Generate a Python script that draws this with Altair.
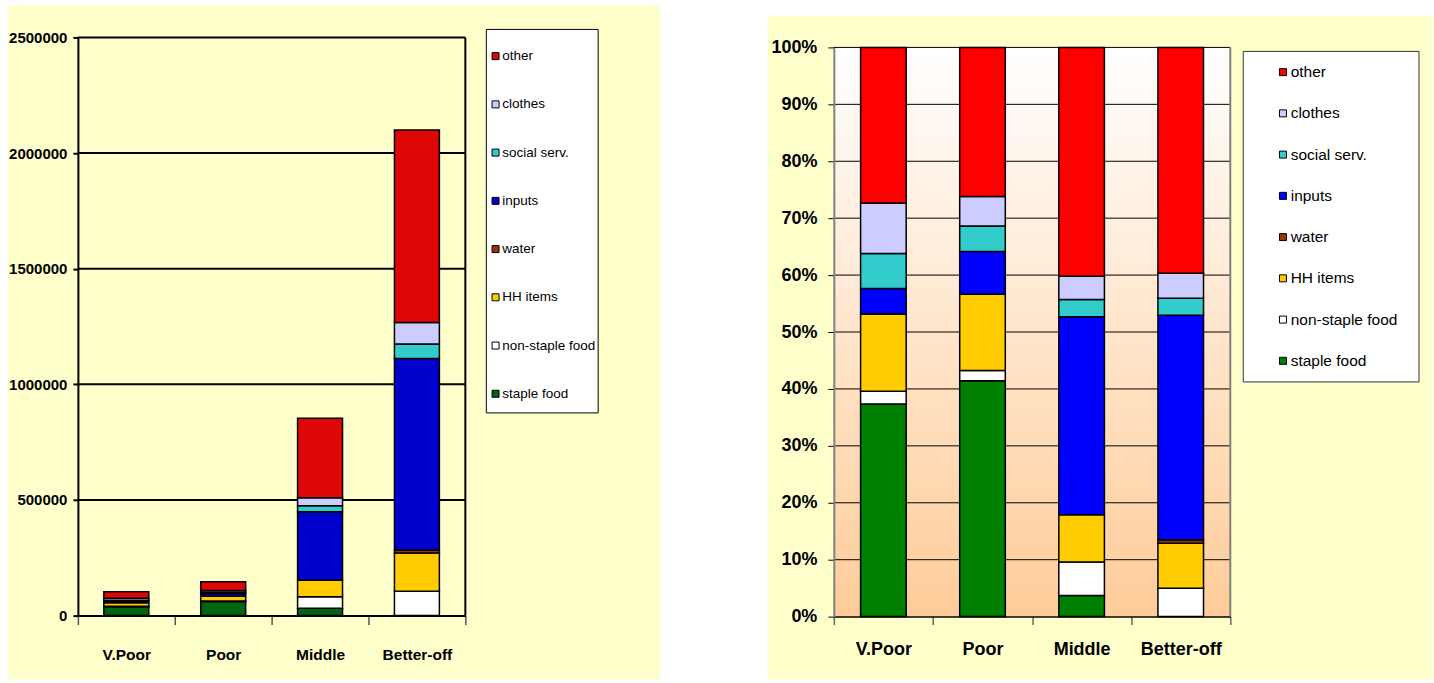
import altair as alt
import pandas as pd

# Wealth groups along the x axis
groups = ["V.Poor", "Poor", "Middle", "Better-off"]

# Annual expenditure by item, one value per wealth group
staple_food = [38700, 60900, 31600, 0]
non_staple_food = [2300, 2600, 50300, 105000]
hh_items = [14100, 19700, 70800, 166000]
water = [0, 0, 0, 12600]
inputs = [4600, 11000, 296800, 828000]
social_serv = [6400, 6600, 25600, 63000]
clothes = [9200, 7600, 35000, 92400]
other = [28300, 38500, 343000, 833000]

# Items in stacking order (bottom to top)
items = ["staple food", "non-staple food", "HH items", "water",
         "inputs", "social serv.", "clothes", "other"]
series = [staple_food, non_staple_food, hh_items, water,
          inputs, social_serv, clothes, other]

colors_abs = ["#006411", "#FFFFFF", "#FFCC00", "#993300",
              "#0000CC", "#33CCCC", "#CCCCFF", "#DD0806"]
colors_pct = ["#008000", "#FFFFFF", "#FFCC00", "#993300",
              "#0000FF", "#33CCCC", "#CCCCFF", "#FF0000"]

abs_ticks = [0, 500000, 1000000, 1500000, 2000000, 2500000]
pct_ticks = [0, 0.1, 0.2, 0.3, 0.4, 0.5, 0.6, 0.7, 0.8, 0.9, 1.0]

rows = [
    {"group": g, "item": it, "order": i, "value": v}
    for i, (it, vals) in enumerate(zip(items, series))
    for g, v in zip(groups, vals)
]
df = pd.DataFrame(rows)

legend_items = items[::-1]
FONT = "Liberation Sans, Arial, sans-serif"
PANEL = "#FFFFCC"
one = alt.Data(values=[{"k": 1}])

# ---------------- absolute values ----------------
W1, H1 = 388, 579
yscale_l = alt.Scale(domain=[0, 2500000], nice=False)
yaxis_l = alt.Axis(title=None, values=abs_ticks, format="d", grid=False, zindex=1,
                   labelFont=FONT, labelFontSize=15, labelFontWeight="bold",
                   labelColor="black", labelPadding=6, tickSize=5, tickColor="black",
                   tickWidth=2, domainColor="black", domainWidth=2,
                   minExtent=70, maxExtent=70)
xaxis_l = alt.Axis(title=None, labelAngle=0, grid=False, zindex=1, labelFont=FONT,
                   labelFontSize=15.5, labelFontWeight="bold", labelColor="black",
                   labelBaseline="middle", labelPadding=30, tickBand="extent",
                   tickSize=9, tickColor="#555555", tickWidth=1.5,
                   domainColor="black", domainWidth=2)

panel_l = alt.Chart(one).mark_rect(color=PANEL).encode(
    x=alt.value(-70), x2=alt.value(583), y=alt.value(-32), y2=alt.value(643))
grid_l = alt.Chart(pd.DataFrame({"v": abs_ticks[1:]})).mark_rule(
    color="black", strokeWidth=2).encode(
    y=alt.Y("v:Q", scale=yscale_l, axis=yaxis_l), x=alt.value(0), x2=alt.value(W1))
bars_l = alt.Chart(df).transform_filter("datum.value > 0").mark_bar(
    stroke="black", strokeWidth=1.5, width=alt.RelativeBandSize(0.464)).encode(
    x=alt.X("group:N", sort=groups, scale=alt.Scale(paddingInner=0, paddingOuter=0),
            axis=xaxis_l),
    y=alt.Y("value:Q", stack="zero", scale=yscale_l, axis=yaxis_l),
    color=alt.Color("item:N",
                    scale=alt.Scale(domain=legend_items, range=colors_abs[::-1]),
                    legend=alt.Legend(orient="none", legendX=411.5, legendY=12,
                                      title=None, padding=0, symbolType="square",
                                      symbolSize=49, symbolStrokeColor="black",
                                      symbolStrokeWidth=1, labelFont=FONT,
                                      labelFontSize=13.5, labelColor="black",
                                      labelOffset=0, rowPadding=33.3)),
    order=alt.Order("order:Q", sort="ascending"),
)
border_l = alt.Chart(one).mark_rule(color="black", strokeWidth=2).encode(
    x=alt.value(W1), y=alt.value(0), y2=alt.value(H1))
lbox_l = alt.Chart(one).mark_rect(fill="white", stroke="black", strokeWidth=1).encode(
    x=alt.value(409), x2=alt.value(521), y=alt.value(-8), y2=alt.value(376))

left = alt.layer(panel_l, grid_l, bars_l, border_l, lbox_l).properties(width=W1, height=H1)

# ---------------- shares ----------------
W2, H2, T2 = 397, 580, 10
yscale_r = alt.Scale(domain=[0, 1], nice=False, range=[H2, T2])
yaxis_r = alt.Axis(title=None, values=pct_ticks, format=".0%", grid=False, zindex=1,
                   labelFont=FONT, labelFontSize=18, labelFontWeight="bold",
                   labelColor="black", labelPadding=11, tickSize=6, tickColor="black",
                   tickWidth=1, domainColor="#808080", domainWidth=2)
xaxis_r = alt.Axis(title=None, labelAngle=0, grid=False, zindex=1, labelFont=FONT,
                   labelFontSize=18, labelFontWeight="bold", labelColor="black",
                   labelBaseline="middle", labelPadding=25, tickBand="extent",
                   tickSize=8, tickColor="#666666", tickWidth=1.5,
                   domainColor="black", domainWidth=1.5)

gradient = alt.LinearGradient(
    gradient="linear", x1=0, x2=0, y1=0, y2=1,
    stops=[alt.GradientStop(color="#FFFFFF", offset=0),
           alt.GradientStop(color="#FFCC99", offset=1)])

panel_r = alt.Chart(one).mark_rect(color=PANEL).encode(
    x=alt.value(-66), x2=alt.value(600), y=alt.value(-22), y2=alt.value(643))
plotbg_r = alt.Chart(one).mark_rect(color=gradient).encode(
    x=alt.value(0), x2=alt.value(W2), y=alt.value(T2), y2=alt.value(H2))
grid_r = alt.Chart(pd.DataFrame({"v": pct_ticks[1:]})).mark_rule(
    color="black", strokeWidth=1).encode(
    y=alt.Y("v:Q", scale=yscale_r, axis=yaxis_r), x=alt.value(0), x2=alt.value(W2))
bars_r = alt.Chart(df).transform_filter("datum.value > 0").mark_bar(
    stroke="black", strokeWidth=1.5, width=alt.RelativeBandSize(0.46)).encode(
    x=alt.X("group:N", sort=groups, scale=alt.Scale(paddingInner=0, paddingOuter=0),
            axis=xaxis_r),
    y=alt.Y("value:Q", stack="normalize", scale=yscale_r, axis=yaxis_r),
    color=alt.Color("item:N",
                    scale=alt.Scale(domain=legend_items, range=colors_pct[::-1]),
                    legend=alt.Legend(orient="none", legendX=442, legendY=27,
                                      title=None, padding=0, symbolType="square",
                                      symbolSize=49, symbolStrokeColor="black",
                                      symbolStrokeWidth=1, labelFont=FONT,
                                      labelFontSize=15.5, labelColor="black",
                                      labelOffset=0, rowPadding=24.3)),
    order=alt.Order("order:Q", sort="ascending"),
)
border_r = alt.Chart(one).mark_rule(color="#808080", strokeWidth=2).encode(
    x=alt.value(W2), y=alt.value(T2), y2=alt.value(H2))
lbox_r = alt.Chart(one).mark_rect(fill="white", stroke="#333333", strokeWidth=1).encode(
    x=alt.value(410), x2=alt.value(586), y=alt.value(14), y2=alt.value(345))

right = alt.layer(panel_r, plotbg_r, grid_r, bars_r, border_r, lbox_r).properties(
    width=W2, height=H2)

chart = alt.hconcat(left, right, spacing=369, bounds="flush").resolve_scale(
    color="independent"
).properties(
    padding={"left": 7, "top": 4, "right": 0, "bottom": 0},
    background="white",
).configure_view(stroke="transparent")

chart.save("out.html", embed_options={"renderer": "svg", "actions": False})
